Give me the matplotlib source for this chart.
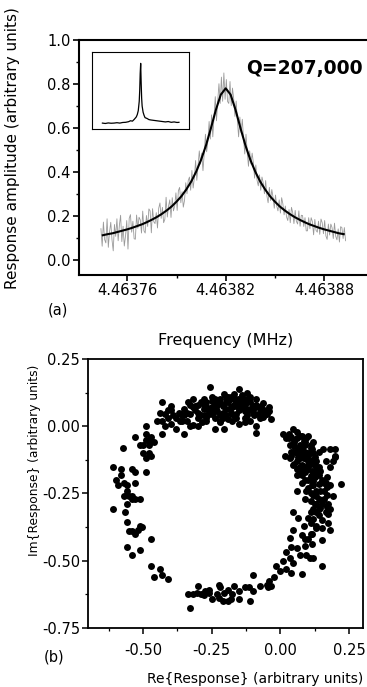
import numpy as np
from matplotlib import pyplot as plt

plt.rcParams['font.family'] = ['DejaVu Sans']
plt.rcParams['axes.unicode_minus'] = False

# ---- panel (a): resonance amplitude ----
f_center = 4.46382  # MHz
# detuning from f_center, in units of 1e-6 MHz
detuning = [-75, -72, -69, -66, -63, -60, -57, -54, -51, -48,
            -45, -42, -39, -36, -33, -30, -27, -24, -21, -18,
            -15, -12, -9, -6, -3, 0, 3, 6, 9, 12,
            15, 18, 21, 24, 27, 30, 33, 36, 39, 42,
            45, 48, 51, 54, 57, 60, 63, 66, 69, 72]
fit_amp = [0.111, 0.116, 0.120, 0.126, 0.132, 0.138, 0.145, 0.153, 0.161, 0.171,
           0.182, 0.194, 0.208, 0.224, 0.242, 0.264, 0.289, 0.320, 0.356, 0.401,
           0.455, 0.521, 0.599, 0.682, 0.751, 0.780, 0.751, 0.682, 0.599, 0.521,
           0.455, 0.401, 0.356, 0.320, 0.289, 0.264, 0.242, 0.224, 0.208, 0.194,
           0.182, 0.171, 0.161, 0.153, 0.145, 0.138, 0.132, 0.126, 0.120, 0.116]
# measured minus fit, 4 samples per fit point, in units of 0.01
residual = [3, -5, 6, -2,  -4, 7, -6, 1,  5, -3, -8, 4,  -2, 6, -4, 3,  7, -5, 2, -7,
            -3, 4, -9, 5,  6, -2, 3, -5,  -6, 5, -1, 4,  2, -4, 6, -3,  -5, 3, -2, 6,
            4, -6, 5, -1,  -3, 2, -5, 4,  5, -2, 3, -4,  -4, 6, -3, 2,  3, -5, 4, -2,
            -2, 4, -4, 5,  4, -3, 2, -5,  -5, 3, -2, 4,  2, -4, 5, -3,  -3, 5, -4, 3,
            4, -2, 3, -5,  -4, 5, -3, 2,  3, -5, 6, -4,  -3, 6, -5, 4,  5, -4, 8, -3,
            7, -5, 4, -6,  -4, 6, -5, 3,  5, -3, 4, -5,  -4, 5, -2, 4,  3, -4, 5, -3,
            -3, 4, -2, 3,  4, -3, 3, -4,  -2, 3, -4, 2,  3, -2, 4, -3,  -3, 4, -2, 3,
            2, -3, 3, -2,  -2, 3, -3, 4,  3, -2, 2, -3,  -3, 2, -4, 3,  2, -3, 3, -2,
            -2, 4, -3, 2,  3, -2, 2, -4,  -3, 3, -2, 3,  2, -4, 3, -2,  -2, 3, -3, 4,
            3, -2, 4, -3,  -4, 3, -2, 3,  2, -3, 4, -2,  -3, 2, -4, 3,  3, -2, 3, -3]
sub_offsets = [-1.125, -0.375, 0.375, 1.125]

# inset: wide sweep
inset_x = [0.11, 0.14, 0.17, 0.20, 0.23, 0.26, 0.29, 0.32, 0.35, 0.38,
           0.40, 0.42, 0.44, 0.46, 0.47, 0.48, 0.49, 0.495, 0.50, 0.505,
           0.51, 0.515, 0.52, 0.53, 0.54, 0.55, 0.57, 0.59, 0.61, 0.64,
           0.67, 0.70, 0.73, 0.76, 0.79, 0.82, 0.85, 0.88, 0.90]
inset_y = [0.080, 0.075, 0.082, 0.078, 0.080, 0.085, 0.080, 0.088, 0.090, 0.098,
           0.110, 0.105, 0.130, 0.160, 0.190, 0.240, 0.360, 0.500, 0.720, 0.850,
           0.600, 0.400, 0.300, 0.220, 0.180, 0.150, 0.140, 0.125, 0.120, 0.115,
           0.110, 0.105, 0.100, 0.095, 0.100, 0.090, 0.095, 0.088, 0.090]

# ---- panel (b): complex response ----
re_vals = [-0.61, -0.60, -0.61, -0.59, -0.58, -0.575, -0.58, -0.57, -0.56, -0.57,
           -0.56, -0.565, -0.56, -0.55, -0.56, -0.54, -0.54, -0.53, -0.52, -0.51,
           -0.505, -0.51, -0.55, -0.54, -0.54, -0.53, -0.51, -0.53, -0.54, -0.53,
           -0.53, -0.56, -0.49, -0.49, -0.50, -0.51, -0.50, -0.49, -0.49, -0.48,
           -0.48, -0.47, -0.46, -0.47, -0.48, -0.49, -0.47, -0.46, -0.44, -0.43,
           -0.41, -0.47,
           -0.43, -0.43, -0.43, -0.42, -0.41, -0.41, -0.40, -0.40, -0.39, -0.38,
           -0.37, -0.365, -0.35, -0.36, -0.35, -0.34, -0.335, -0.33, -0.32, -0.32,
           -0.31, -0.30, -0.30, -0.30, -0.29, -0.28, -0.28, -0.27, -0.27, -0.26,
           -0.255, -0.25, -0.25, -0.24, -0.24, -0.23, -0.22, -0.22, -0.21, -0.205,
           -0.205, -0.20, -0.19, -0.185, -0.18, -0.175, -0.17, -0.16, -0.155, -0.15,
           -0.15, -0.145, -0.14, -0.13, -0.125, -0.12, -0.12, -0.11, -0.11, -0.10,
           -0.095, -0.09, -0.09, -0.08, -0.075, -0.07, -0.065, -0.065, -0.05, -0.04,
           -0.035, -0.09, -0.24,
           -0.27, -0.22, -0.175, -0.125, -0.19, -0.16, -0.235, -0.285, -0.33, -0.15,
           -0.11, -0.185, -0.14, -0.21, -0.25, -0.175, -0.145, -0.20, -0.10,
           -0.23, -0.20, -0.17, -0.14, -0.18, -0.15, -0.12, -0.26, -0.22, -0.16,
           -0.19, -0.13, -0.24, -0.21, -0.10, -0.08, -0.06, -0.30, -0.32, -0.34,
           -0.36, -0.38, -0.28, -0.27, -0.17, -0.12,
           -0.29, -0.31, -0.25, -0.22, -0.18, -0.16, -0.13, -0.11, -0.09, -0.07,
           -0.20, -0.14, -0.24, -0.17, -0.13, -0.06, -0.04, -0.27, -0.33, -0.35,
           -0.40, -0.42, -0.44, -0.45,
           0.01, 0.02, 0.045, 0.06, 0.07, 0.035, 0.015, 0.045, 0.07, 0.085,
           0.095, 0.065, 0.09, 0.11, 0.12, 0.08, 0.10, 0.125, 0.14, 0.09,
           0.115, 0.06, 0.08, 0.10, 0.125, 0.145, 0.165, 0.18, 0.20, 0.155,
           0.22, 0.115, 0.14, 0.165, 0.17, 0.095, 0.12, 0.145, 0.17, 0.19,
           0.15, 0.125, 0.175, 0.045, 0.035, 0.06, 0.085, 0.095, 0.07, 0.11,
           0.03, 0.05, 0.065, 0.08, 0.04, 0.09, 0.10, 0.115, 0.125, 0.13,
           0.12, 0.13, 0.06, 0.20,
           0.05, 0.07, 0.09, 0.10, 0.11, 0.08, 0.06, 0.12, 0.13, 0.10,
           0.13, 0.15, 0.14, 0.08, 0.11, 0.16, 0.12, 0.14, 0.10, 0.04,
           0.07, 0.09, 0.12, 0.16, 0.18, 0.10, 0.13, 0.15, 0.11, 0.10,
           0.03, 0.05, 0.06, 0.08, 0.09, 0.11, 0.10, 0.07, 0.05, 0.06,
           0.10, 0.12, 0.13, 0.14, 0.12, 0.11, 0.14, 0.15, 0.16, 0.17,
           0.18, 0.19, 0.20, 0.18, 0.08, 0.04, 0.17, 0.13, 0.09, 0.14,
           0.13, 0.145, 0.11, 0.165, 0.12, 0.15, 0.175, 0.085, 0.11, 0.13,
           0.175, 0.18, 0.15, 0.08, 0.09, 0.115, 0.06, 0.09, 0.115, 0.07,
           0.095, 0.12, 0.15, 0.108, 0.078, 0.045, 0.065, 0.045,
           0.035, 0.04, 0.02, 0.035, 0.045, 0.01, 0.02, 0.00, -0.015, 0.04,
           -0.025, -0.04, -0.05, -0.075, -0.045, -0.033, -0.10, -0.11, -0.10, -0.13,
           -0.15, -0.15, -0.17, -0.175, -0.18, -0.205, -0.19, -0.22, -0.225, -0.21,
           -0.25, -0.23, -0.26, -0.275, -0.28, -0.30, -0.305, -0.32, -0.335, -0.33,
           -0.29, -0.26, -0.225, -0.115, -0.19]
im_vals = [-0.15, -0.20, -0.31, -0.22, -0.16, -0.08, -0.18, -0.21, -0.24, -0.26,
           -0.29, -0.32, -0.355, -0.39, -0.45, -0.48, -0.39, -0.40, -0.385, -0.37,
           -0.375, -0.46, -0.26, -0.27, -0.26, -0.27, -0.27, -0.21, -0.16, -0.17,
           -0.04, -0.22, -0.17, -0.12, -0.10, -0.07, -0.07, -0.03, 0.00, -0.05,
           -0.07, -0.04, -0.06, -0.11, -0.10, -0.05, -0.52, -0.56, -0.53, -0.555,
           -0.57, -0.42,
           0.02, 0.09, -0.03, 0.00, 0.03, 0.06, 0.06, 0.01, 0.04, -0.01,
           0.05, 0.02, -0.03, 0.04, 0.065, 0.02, 0.09, 0.045, 0.10, 0.005,
           0.06, 0.03, 0.08, 0.00, 0.04, 0.10, 0.065, 0.02, 0.09, 0.045,
           0.145, 0.07, 0.11, 0.03, 0.09, 0.055, 0.10, 0.015, 0.075, 0.12,
           -0.01, 0.04, 0.09, 0.065, 0.11, 0.02, 0.08, 0.045, 0.10, 0.01,
           0.14, 0.07, 0.11, 0.03, 0.09, 0.125, 0.06, 0.11, 0.02, 0.075,
           0.04, 0.10, 0.00, 0.07, 0.03, 0.06, 0.085, 0.035, 0.045, 0.07,
           0.025, -0.025, -0.01,
           0.04, 0.04, 0.045, 0.025, 0.025, 0.075, 0.07, 0.015, 0.00, 0.06,
           0.09, 0.10, 0.075, 0.05, 0.045, 0.07, 0.095, 0.065, 0.06,
           0.08, 0.09, 0.10, 0.09, 0.05, 0.075, 0.04, 0.06, 0.02, 0.03,
           0.11, 0.055, 0.055, 0.03, 0.05, 0.045, 0.06, 0.05, 0.07, 0.05,
           0.02, 0.03, 0.08, 0.03, 0.12, 0.10,
           0.09, 0.075, 0.095, 0.085, 0.07, 0.09, 0.08, 0.065, 0.08, 0.075,
           0.11, 0.115, 0.10, 0.04, 0.015, 0.04, 0.055, 0.075, 0.08, 0.04,
           0.075, 0.045, 0.05, 0.02,
           -0.03, -0.045, -0.01, -0.02, -0.035, -0.07, -0.11, -0.095, -0.07, -0.055,
           -0.045, -0.115, -0.095, -0.07, -0.06, -0.145, -0.13, -0.115, -0.095, -0.17,
           -0.165, -0.18, -0.21, -0.20, -0.19, -0.165, -0.13, -0.085, -0.115, -0.085,
           -0.215, -0.22, -0.215, -0.21, -0.225, -0.24, -0.255, -0.24, -0.255, -0.26,
           -0.28, -0.29, -0.29, -0.145, -0.12, -0.13, -0.12, -0.15, -0.17, -0.185,
           -0.045, -0.06, -0.085, -0.10, -0.095, -0.07, -0.11, -0.085, -0.145, -0.17,
           -0.205, -0.24, -0.24, -0.085,
           -0.05, -0.09, -0.12, -0.16, -0.14, -0.08, -0.10, -0.10, -0.13, -0.23,
           -0.26, -0.20, -0.15, -0.18, -0.28, -0.24, -0.31, -0.33, -0.035, -0.04,
           -0.15, -0.20, -0.17, -0.27, -0.31, -0.34, -0.37, -0.38, -0.40, -0.42,
           -0.03, -0.075, -0.045, -0.035, -0.06, -0.08, -0.10, -0.12, -0.14, -0.16,
           -0.145, -0.125, -0.16, -0.18, -0.22, -0.25, -0.27, -0.29, -0.21, -0.19,
           -0.22, -0.13, -0.11, -0.15, -0.16, -0.11, -0.30, -0.29, -0.27, -0.31,
           -0.32, -0.305, -0.32, -0.32, -0.345, -0.35, -0.325, -0.37, -0.36, -0.38,
           -0.36, -0.385, -0.425, -0.405, -0.42, -0.40, -0.455, -0.445, -0.44, -0.48,
           -0.48, -0.49, -0.52, -0.49, -0.55, -0.32, -0.34, -0.385,
           -0.415, -0.45, -0.47, -0.49, -0.51, -0.50, -0.53, -0.54, -0.52, -0.545,
           -0.56, -0.575, -0.59, -0.595, -0.60, -0.595, -0.615, -0.65, -0.555, -0.60,
           -0.615, -0.645, -0.595, -0.625, -0.645, -0.62, -0.61, -0.60, -0.59, -0.65,
           -0.645, -0.625, -0.62, -0.615, -0.63, -0.595, -0.62, -0.625, -0.625, -0.675,
           -0.625, -0.61, -0.64, -0.60, -0.65]

fig = plt.figure(figsize=(3.67, 6.87), dpi=100)

# panel (a)
freq = f_center + np.array(detuning) * 1e-6
fit = np.array(fit_amp)
gray_f = (freq[:, None] + np.array(sub_offsets)[None, :] * 1e-6).ravel()
gray_y = np.repeat(fit, 4) + np.array(residual) * 0.01

ax1 = fig.add_axes([0.2153, 0.5997, 0.7847, 0.3421])
ax1.plot(gray_f, gray_y, color='#9a9a9a', lw=0.6)
ax1.plot(freq, fit, color='black', lw=1.5)
ax1.set_xlim(4.4637305, 4.4639062)
ax1.set_ylim(-0.07, 1.0)
ax1.set_xticks([4.46376, 4.46382, 4.46388])
ax1.set_xticklabels(['4.46376', '4.46382', '4.46388'])
ax1.set_xticks([4.46379, 4.46385], minor=True)
ax1.set_yticks([0.0, 0.2, 0.4, 0.6, 0.8, 1.0])
ax1.set_yticklabels(['0.0', '0.2', '0.4', '0.6', '0.8', '1.0'])
ax1.set_yticks([0.1, 0.3, 0.5, 0.7, 0.9], minor=True)
ax1.spines['right'].set_visible(False)
for s in ax1.spines.values():
    s.set_linewidth(1.5)
ax1.tick_params(which='major', direction='out', length=4, width=1.2, labelsize=10.5, pad=2)
ax1.tick_params(which='minor', direction='out', length=2.5, width=1.0)
ax1.text(0.985, 0.88, 'Q=207,000', transform=ax1.transAxes, ha='right', va='center',
         fontsize=13.5, fontweight='bold')

axi = fig.add_axes([0.250, 0.8118, 0.264, 0.1129])
axi.plot(inset_x, inset_y, color='black', lw=0.9)
axi.set_xlim(0, 1)
axi.set_ylim(0, 1)
axi.set_xticks([])
axi.set_yticks([])
for s in axi.spines.values():
    s.set_linewidth(0.8)

fig.text(0.033, 0.785, 'Response amplitude (arbitrary units)', rotation=90,
         ha='center', va='center', fontsize=11)
fig.text(0.614, 0.504, 'Frequency (MHz)', ha='center', va='center', fontsize=11.5)
fig.text(0.157, 0.549, '(a)', ha='center', va='center', fontsize=10.5)

# panel (b)
ax2 = fig.add_axes([0.2406, 0.0863, 0.7477, 0.3911])
ax2.plot(re_vals, im_vals, 'o', color='black', ms=5.0, mec='none')
ax2.set_xlim(-0.70, 0.30)
ax2.set_ylim(-0.75, 0.25)
ax2.set_xticks([-0.50, -0.25, 0.00, 0.25])
ax2.set_xticklabels(['-0.50', '-0.25', '0.00', '0.25'])
ax2.set_xticks([-0.625, -0.375, -0.125, 0.125], minor=True)
ax2.set_yticks([-0.75, -0.50, -0.25, 0.00, 0.25])
ax2.set_yticklabels(['-0.75', '-0.50', '-0.25', '0.00', '0.25'])
ax2.set_yticks([-0.625, -0.375, -0.125, 0.125], minor=True)
for s in ax2.spines.values():
    s.set_linewidth(1.3)
ax2.tick_params(which='major', direction='out', length=4, width=1.1, labelsize=10.5, pad=2)
ax2.tick_params(axis='x', which='major', pad=7)
ax2.tick_params(which='minor', direction='out', length=2.5, width=0.9)

fig.text(0.093, 0.330, 'Im{Response} (arbitrary units)', rotation=90,
         ha='center', va='center', fontsize=8.8)
fig.text(0.696, 0.011, 'Re{Response} (arbitrary units)', ha='center', va='center',
         fontsize=10)
fig.text(0.147, 0.044, '(b)', ha='center', va='center', fontsize=10.5)

fig.savefig('out.png', dpi=100)
